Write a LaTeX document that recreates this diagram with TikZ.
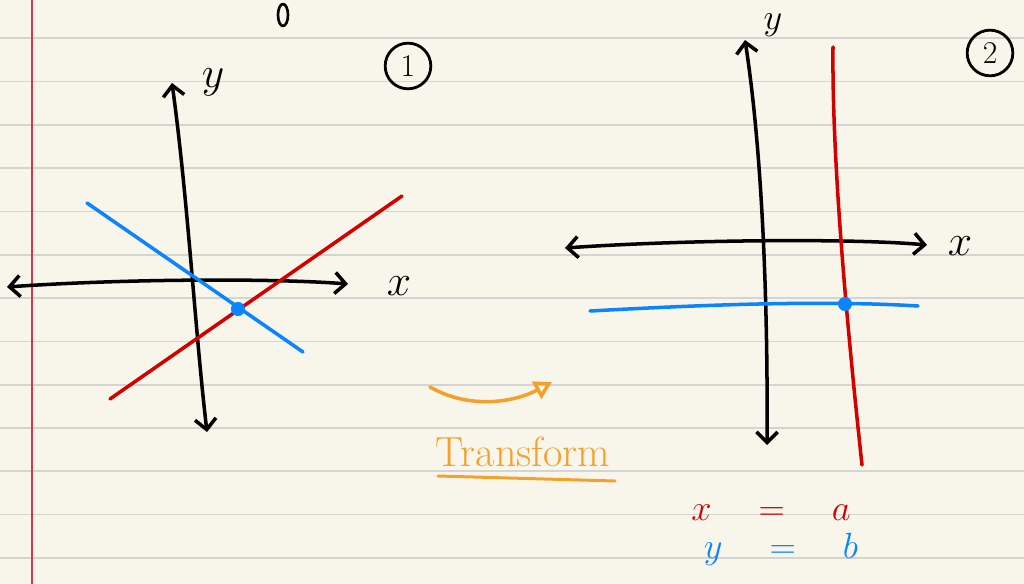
\documentclass[tikz,border=0pt]{standalone}
\usetikzlibrary{arrows.meta, positioning, calc}
\definecolor{paper}{HTML}{F8F6EA}
\definecolor{ruleGrey}{HTML}{D4D4D2}
\definecolor{marginRed}{HTML}{D8344A}
\definecolor{inkRed}{HTML}{D40000}
\definecolor{inkBlue}{HTML}{0A84FF}
\definecolor{inkOrange}{HTML}{F5A02A}

\begin{document}
\begin{tikzpicture}[
        x=0.02cm, y=-0.02cm,
        rule/.style={draw=ruleGrey, line width=1pt},
        margin/.style={draw=marginRed, line width=0.7pt},
        pen/.style={line width=2pt, line cap=round, line join=round},
        axis/.style={pen, draw=black, {Straight Barb[length=6pt,width=12pt]}-{Straight Barb[length=6pt,width=12pt]}},
        redline/.style={pen, draw=inkRed},
        blueline/.style={pen, draw=inkBlue},
        dot/.style={circle, fill=inkBlue, inner sep=0pt, minimum size=8pt},
        label/.style={font=\fontsize{24}{24}\selectfont, inner sep=0pt},
        tag/.style={circle, draw=black, line width=1.6pt, inner sep=0pt, minimum size=26pt, font=\fontsize{18}{18}\selectfont},
        eqn/.style={font=\fontsize{21}{21}\selectfont, inner sep=0pt, anchor=base}
    ]
        % paper
        \fill[paper] (0,0) rectangle (1024,584);
        \useasboundingbox (0,0) rectangle (1024,584);
        \foreach \k in {0,...,12}
            \draw[rule] (0,38.3+43.3*\k) -- (1024,38.3+43.3*\k);
        \draw[margin] (32,0) -- (32,584);

        \draw[pen, line width=1.5pt] (283,15) ellipse (5 and 11);

        % graph 1
        \coordinate (y1top) at (172,83);
        \coordinate (y1bot) at (207,432);
        \coordinate (x1left) at (7,287);
        \coordinate (x1right) at (348,284);
        \coordinate (b1start) at (87,203);
        \coordinate (b1end) at (303,352);
        \coordinate (r1start) at (110,399);
        \coordinate (r1end) at (402,196);

        \draw[axis] (y1top) .. controls (188,200) and (195,330) .. (y1bot);
        \draw[axis] (x1left) .. controls (120,279) and (270,278) .. (x1right);
        \draw[blueline] (b1start) -- (b1end);
        \draw[redline] (r1start) -- (r1end);
        \node[dot] (p1) at (238,309) {};

        \node[label] (xlab1) at (399,286) {$x$};
        \node[label] (ylab1) at (213,82) {$y$};
        \node[tag] (one) at (408,66) {1};

        % graph 2
        \coordinate (y2top) at (745,40);
        \coordinate (y2bot) at (767,445);
        \coordinate (x2left) at (565,248);
        \coordinate (x2right) at (927,245);
        \coordinate (r2start) at (833,47);
        \coordinate (r2end) at (862,465);
        \coordinate (b2start) at (590,311);
        \coordinate (b2end) at (918,306);

        \draw[axis] (y2top) .. controls (762,150) and (768,300) .. (y2bot);
        \draw[axis] (x2left) .. controls (680,240) and (850,238) .. (x2right);
        \draw[redline] (r2start) .. controls (832,140) and (842,280) .. (r2end);
        \draw[blueline] (b2start) .. controls (700,305) and (820,300) .. (b2end);
        \node[dot] (p2) at (845,304) {};

        \node[label] (xlab2) at (960,246) {$x$};
        \node[label, font=\fontsize{21}{21}\selectfont] (ylab2) at (773,25) {$y$};
        \node[tag] (two) at (990,53) {2};

        % transform
        \coordinate (tfrom) at (430,387);
        \coordinate (tto) at (552,382);
        \draw[pen, draw=inkOrange, -{Triangle[open, length=10pt, width=11pt]}] (tfrom) .. controls (470,410) and (515,402) .. (tto);
        \node[label, text=inkOrange] (tf) at (523,452) {Transform};
        \coordinate (ulstart) at (438,476);
        \coordinate (ulend) at (615,481);
        \draw[pen, draw=inkOrange, line width=1.7pt] (ulstart) -- (ulend);

        \node[eqn, text=inkRed] (eqx) at (771,520) {$x\quad=\quad a$};
        \node[eqn, text=inkBlue] (eqy) at (781,558) {$y\quad=\quad b$};
    \end{tikzpicture}
\end{document}
